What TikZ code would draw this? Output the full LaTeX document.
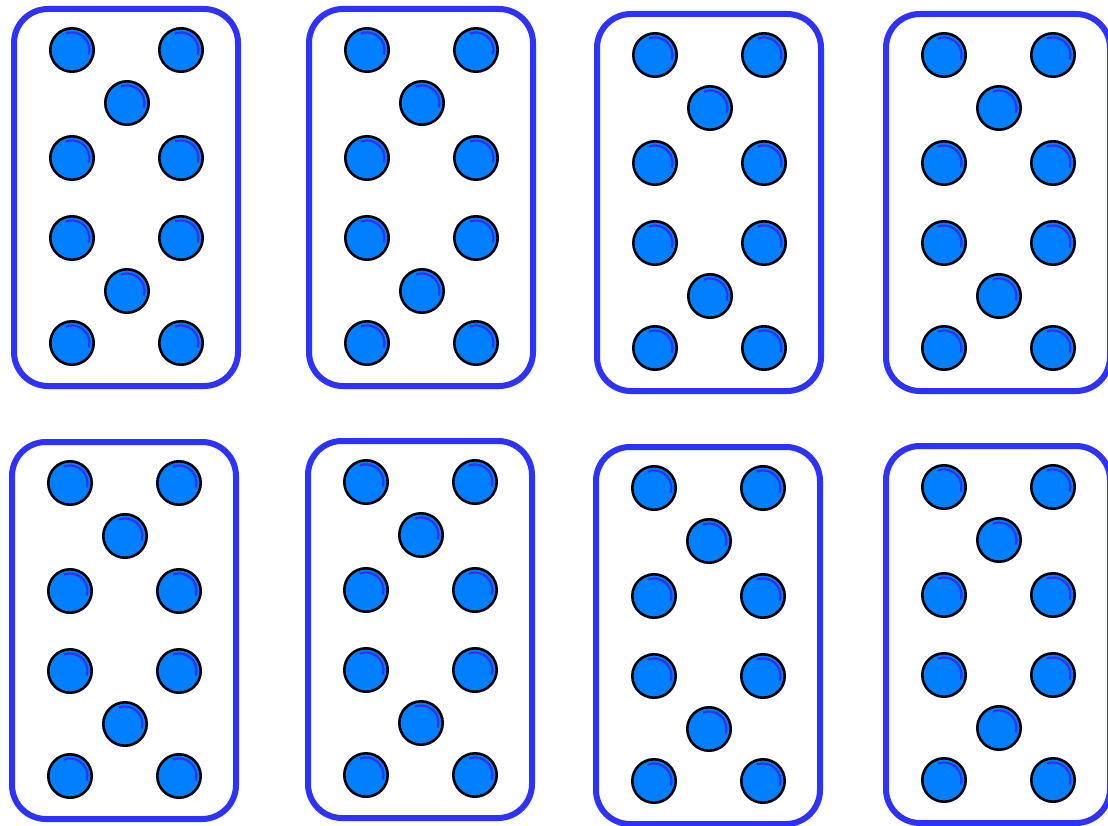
\documentclass[tikz,border=0pt]{standalone}
\usepackage{xcolor}
\usepackage{tikz}
\definecolor{cardblue}{RGB}{45,50,255}
\definecolor{dotblue}{RGB}{0,128,255}

\begin{document}
\begin{tikzpicture}[x=1pt,y=-1pt,
  card/.style={draw=cardblue,line width=6pt,rounded corners=34pt},
  dot/.style={draw=black,line width=2.6pt,fill=dotblue},
  shine/.style={draw=cardblue,line width=2.2pt}]
  \useasboundingbox (0,0) rectangle (1108,826);
  \clip (0,0) rectangle (1108,826);
  \fill[white] (0,0) rectangle (1108,826);
  \foreach \cx/\cy in {72/50,367/50,655/55,944/55,70/483,366/482,654/488,944/487}{
    \begin{scope}[shift={(\cx,\cy)}]
      \draw[card] (-58,-41) rectangle (166,336);
      \foreach \dx/\dy in {0/0,109/0,55/53,0/108,109/108,0/188,109/188,55/241,0/293,109/293}{
        \draw[dot] (\dx,\dy) circle[radius=21.7];
        \draw[shine] (\dx,\dy) ++(-110:17.5) arc[start angle=-110,end angle=15,radius=17.5];
      }
    \end{scope}
  }
\end{tikzpicture}
\end{document}
